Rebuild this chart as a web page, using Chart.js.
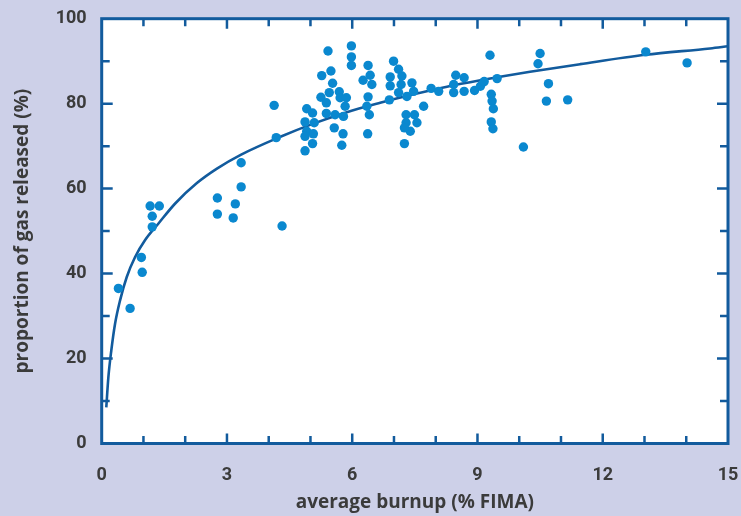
<!DOCTYPE html>
<html>
<head>
<meta charset="utf-8">
<script src="https://cdn.jsdelivr.net/npm/chart.js@4/dist/chart.umd.min.js"></script>
<style>
html,body{margin:0;padding:0;background:#cdd0e8;}
#wrap{width:741px;height:516px;position:relative;}
</style>
</head>
<body>
<div id="wrap"><canvas id="c" width="741" height="516"></canvas></div>
<script>
// Measured points: average burnup (% FIMA) and proportion of gas released (%)
const burnup = [
  0.40,0.68,0.95,0.97,1.16,1.38,1.21,1.21,2.77,2.77,3.15,3.20,3.34,3.34,4.13,4.18,4.32,
  5.42,5.98,5.98,5.98,5.49,5.27,5.53,6.38,6.43,6.26,6.47,6.99,6.91,6.91,6.89,
  5.25,5.45,5.69,5.71,5.86,5.38,5.83,6.38,6.35,6.41,
  4.91,5.05,4.87,5.09,4.91,5.07,4.87,5.05,4.87,
  5.38,5.59,5.79,5.57,5.78,5.75,6.37,
  7.11,7.19,7.17,7.43,7.11,7.31,7.47,7.71,7.89,8.07,8.48,8.68,8.43,8.43,8.68,8.93,9.07,9.16,
  9.30,9.47,9.33,9.35,9.38,9.33,9.37,
  7.29,7.49,7.55,7.29,7.39,7.25,7.25,
  10.50,10.45,10.70,10.65,11.16,10.10,13.03,14.02
];
const released = [
  36.5,31.8,43.8,40.3,55.9,55.9,53.5,51.0,57.8,54.0,53.1,56.4,60.4,66.1,79.6,72.0,51.2,
  92.4,93.6,91.0,89.0,87.7,86.6,84.8,89.0,86.7,85.5,84.5,90.0,86.3,84.2,80.9,
  81.5,82.6,82.8,81.4,81.4,80.2,79.4,81.6,79.4,77.4,
  78.8,77.8,75.7,75.5,73.5,72.9,72.3,70.6,68.9,
  77.7,77.4,77.0,74.3,72.9,70.2,72.9,
  88.1,86.5,84.5,84.9,82.6,81.7,82.9,79.4,83.6,82.9,86.7,86.1,84.5,82.6,82.9,83.1,84.1,85.2,
  91.4,85.9,82.2,80.6,78.8,75.7,74.1,
  77.4,77.4,75.5,75.5,73.5,74.3,70.6,
  91.8,89.4,84.7,80.6,80.9,69.8,92.2,89.6
];
// Fitted trend curve
const curveX = [0.11,0.16,0.23,0.32,0.44,0.60,0.80,1.04,1.36,1.76,2.28,2.76,3.34,4.28,5.07,5.87,6.67,7.47,8.27,9.07,10.26,11.46,13.02,14.57,15.0];
const curveY = [8.5,15.6,21.9,28.2,33.7,39.2,43.9,47.9,51.8,56.5,61.3,64.7,68.0,72.2,75.3,78.0,80.2,82.2,84.0,85.5,87.5,89.3,91.5,93.0,93.5];
// Axis ticks
const xTicks = [0,3,6,9,12,15];
const yTicks = [0,20,40,60,80,100];
const xTitle = 'average burnup (% FIMA)';
const yTitle = 'proportion of gas released (%)';

const BG = '#cdd0e8';
const AXIS = '#125b9d';
const DOT = '#0a88cf';
const TEXT = '#3b3b3b';

const framePlugin = {
  id: 'frame',
  beforeDraw(chart) {
    const {ctx, chartArea: a} = chart;
    ctx.save();
    ctx.fillStyle = BG;
    ctx.fillRect(0, 0, chart.width, chart.height);
    ctx.fillStyle = '#ffffff';
    ctx.fillRect(a.left, a.top, a.right - a.left, a.bottom - a.top);
    ctx.restore();
  },
  beforeDatasetsDraw(chart) {
    const {ctx, chartArea: a, scales} = chart;
    const xs = scales.x, ys = scales.y;
    ctx.save();
    ctx.strokeStyle = AXIS;
    ctx.lineWidth = 2.5;
    for (let v = 1; v < 15; v++) {
      const px = xs.getPixelForValue(v);
      const len = (v % 3 === 0) ? 10 : 7.5;
      ctx.beginPath();
      ctx.moveTo(px, a.bottom); ctx.lineTo(px, a.bottom - len);
      ctx.moveTo(px, a.top); ctx.lineTo(px, a.top + len);
      ctx.stroke();
    }
    for (let v = 10; v < 100; v += 10) {
      const py = ys.getPixelForValue(v);
      const len = (v % 20 === 0) ? 11 : 8;
      ctx.beginPath();
      ctx.moveTo(a.left, py); ctx.lineTo(a.left + len, py);
      ctx.moveTo(a.right, py); ctx.lineTo(a.right - len, py);
      ctx.stroke();
    }
    ctx.lineWidth = 3;
    ctx.strokeRect(a.left, a.top, a.right - a.left, a.bottom - a.top);
    ctx.restore();
  }
};

const points = burnup.map((x, i) => ({x, y: released[i]}));
const curve = curveX.map((x, i) => ({x, y: curveY[i]}));

new Chart(document.getElementById('c'), {
  type: 'scatter',
  data: {
    datasets: [
      {
        data: curve, showLine: true, borderColor: AXIS, borderWidth: 2.6,
        pointRadius: 0, cubicInterpolationMode: 'monotone', fill: false, order: 2
      },
      {
        data: points, backgroundColor: DOT, borderWidth: 0,
        pointRadius: 4.7, pointHoverRadius: 4.7, order: 1
      }
    ]
  },
  options: {
    responsive: false,
    animation: false,
    events: [],
    layout: {padding: {left: 0, right: 13, top: 18.7, bottom: 0}},
    plugins: {legend: {display: false}, tooltip: {enabled: false}},
    scales: {
      x: {
        type: 'linear', min: 0, max: 15,
        afterBuildTicks(s) { s.ticks = xTicks.map(v => ({value: v})); },
        afterFit(s) { s.height = 72.5; s.paddingLeft = 0; s.paddingRight = 0; },
        grid: {display: false, drawTicks: false},
        border: {display: false},
        ticks: {color: TEXT, padding: 21, font: {family: 'Roboto', weight: 'bold', size: 18}},
        title: {display: true, text: xTitle, color: TEXT, padding: {top: 0, bottom: 2.5},
                font: {family: 'Open Sans', weight: 'bold', size: 19}}
      },
      y: {
        type: 'linear', min: 0, max: 100,
        afterBuildTicks(s) { s.ticks = yTicks.map(v => ({value: v})); },
        afterFit(s) { s.width = 101.7; s.paddingTop = 0; s.paddingBottom = 0; },
        grid: {display: false, drawTicks: false},
        border: {display: false},
        ticks: {color: TEXT, padding: 15, font: {family: 'Roboto', weight: 'bold', size: 18}},
        title: {display: true, text: yTitle, color: TEXT, padding: {top: 11.6, bottom: 0},
                font: {family: 'Open Sans', weight: 'bold', size: 19}}
      }
    }
  },
  plugins: [framePlugin]
});
</script>
</body>
</html>
